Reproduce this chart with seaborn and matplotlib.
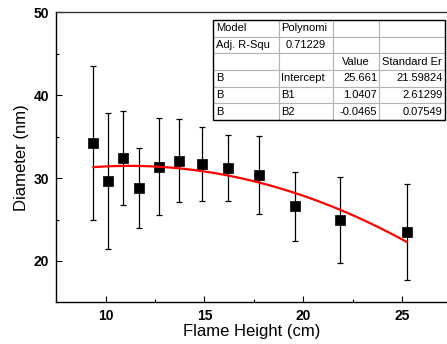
import numpy as np
import pandas as pd
import matplotlib
matplotlib.use("Agg")
import matplotlib.pyplot as plt
from matplotlib.ticker import MultipleLocator
from matplotlib.patches import Rectangle
import seaborn as sns

# data
flame_height = [9.37, 10.10, 10.89, 11.69, 12.68, 13.70, 14.89, 16.19, 17.75, 19.60, 21.85, 25.26]
diameter = [34.2, 29.7, 32.4, 28.8, 31.4, 32.1, 31.7, 31.2, 30.4, 26.6, 24.9, 23.5]
diameter_err = [9.3, 8.2, 5.7, 4.8, 5.9, 5.0, 4.5, 4.0, 4.7, 4.2, 5.2, 5.75]

# polynomial fit coefficients as printed in the table
fit_coef = [25.661, 1.0407, -0.0465]

table_rows = [
    ["Model", "Polynomi", "", ""],
    ["Adj. R-Squ", "0.71229", "", ""],
    ["", "", "Value", "Standard Er"],
    ["B", "Intercept", "25.661", "21.59824"],
    ["B", "B1", "1.0407", "2.61299"],
    ["B", "B2", "-0.0465", "0.07549"],
]

sns.set_style("ticks", {"axes.edgecolor": "black", "text.color": "black",
                        "axes.labelcolor": "black", "xtick.color": "black",
                        "ytick.color": "black"})
plt.rcParams['font.family'] = ['Liberation Sans', 'DejaVu Sans']

df = pd.DataFrame({"h": flame_height, "d": diameter, "err": diameter_err})

fig = plt.figure(figsize=(4.47, 3.44), dpi=100)
ax = fig.add_axes([0.1246, 0.1221, 0.8754, 0.8416])

ax.errorbar(df["h"], df["d"], yerr=df["err"], fmt="none", ecolor="black",
            elinewidth=0.9, capsize=2.3, capthick=0.9, zorder=2)
sns.scatterplot(data=df, x="h", y="d", marker="s", s=62, color="black",
                edgecolor="black", linewidth=0.5, ax=ax, zorder=3)

xs = np.linspace(min(flame_height), max(flame_height), 200)
fit_df = pd.DataFrame({"h": xs, "d": np.polyval(fit_coef[::-1], xs)})
sns.lineplot(data=fit_df, x="h", y="d", color="#ff0000", linewidth=1.6, ax=ax, zorder=4)

ax.set_xlim(7.47, 27.28)
ax.set_ylim(15.05, 50)
ax.xaxis.set_major_locator(MultipleLocator(5))
ax.xaxis.set_minor_locator(MultipleLocator(2.5))
ax.yaxis.set_major_locator(MultipleLocator(10))
ax.yaxis.set_minor_locator(MultipleLocator(5))
ax.tick_params(which="major", direction="in", length=4.5, width=0.8, labelsize=10,
               pad=5, colors="black")
ax.tick_params(which="minor", direction="in", length=2.5, width=0.8, colors="black")
for lab in ax.get_xticklabels() + ax.get_yticklabels():
    lab.set_fontweight("bold")
ax.spines["right"].set_visible(False)
for s in ["left", "bottom", "top"]:
    ax.spines[s].set_linewidth(1.0)
    ax.spines[s].set_color("black")
ax.spines["top"].set_color("#333333")

ax.set_xlabel("Flame Height (cm)", fontsize=12, labelpad=1, color="black")
ax.set_ylabel("Diameter (nm)", fontsize=12, labelpad=3, color="black")

# fit results table
tbl = ax.table(cellText=table_rows, cellLoc="left",
               colWidths=[66 / 232, 54 / 232, 46 / 232, 66 / 232],
               bbox=[0.402, 0.629, 0.593, 0.345], zorder=5)
tbl.auto_set_font_size(False)
for (r, c), cell in tbl.get_celld().items():
    cell.set_edgecolor("#b4b4b4")
    cell.set_linewidth(0.8)
    cell.set_facecolor("white")
    cell.get_text().set_fontsize(8)
    cell.get_text().set_color("black")
    cell.PAD = 0.04
    loc = "left"
    if c >= 2 and r >= 3:
        loc = "right"
    if (r, c) in [(1, 1), (2, 2)]:
        loc = "center"
    cell._loc = loc
    cell.get_text().set_ha(loc)
ax.add_patch(Rectangle((0.402, 0.629), 0.593, 0.345, transform=ax.transAxes,
                       fill=False, edgecolor="black", linewidth=1.0, zorder=6))

fig.savefig("out.png", dpi=100)
